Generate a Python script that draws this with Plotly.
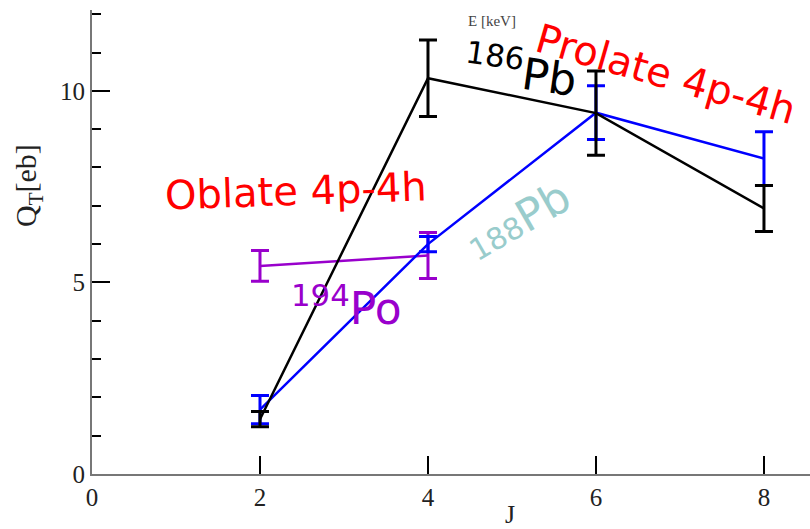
import plotly.graph_objects as go

# Transition quadrupole moments Q_T [eb] versus spin J
J_186 = [2, 4, 6, 8]
Q_186 = [1.43, 10.33, 9.42, 6.93]
ERR_186 = [0.2, 1.0, 1.1, 0.6]

J_188 = [2, 4, 6, 8]
Q_188 = [1.68, 6.0, 9.43, 8.23]
ERR_188 = [0.37, 0.2, 0.7, 0.7]

J_194 = [2, 4]
Q_194 = [5.43, 5.7]
ERR_194 = [0.4, 0.6]

X_TICKS = [0, 2, 4, 6, 8]
Y_TICKS = [0, 5, 10]

BLACK = "#000000"
BLUE = "#0000ff"
PURPLE = "#9900cc"
RED = "#ff0000"
TEAL = "#99cccc"

SANS = "DejaVu Sans"
SERIF = "Liberation Serif"


def series(x, y, err, color):
    return go.Scatter(
        x=x, y=y, mode="lines",
        line=dict(color=color, width=2.5),
        error_y=dict(type="data", array=err, visible=True,
                     color=color, thickness=3, width=9),
        showlegend=False, hoverinfo="skip",
    )


fig = go.Figure()
fig.add_trace(series(J_194, Q_194, ERR_194, PURPLE))
fig.add_trace(series(J_188, Q_188, ERR_188, BLUE))
fig.add_trace(series(J_186, Q_186, ERR_186, BLACK))

labels = [
    dict(x=6.83, y=10.45, text="Prolate 4p-4h", color=RED, size=40, angle=16),
    dict(x=2.43, y=7.38, text="Oblate 4p-4h", color=RED, size=40, angle=-2),
    dict(x=5.1, y=10.55, text="<sup>186</sup>Pb", color=BLACK, size=44, angle=8),
    dict(x=5.07, y=6.62,
         text="<span style='font-size:30px'>188</span>Pb", color=TEAL, size=44, angle=-30),
    dict(x=3.03, y=4.41, text="<sup>194</sup>Po", color=PURPLE, size=44, angle=0),
]
for lab in labels:
    fig.add_annotation(
        x=lab["x"], y=lab["y"], xref="x", yref="y", text=lab["text"],
        showarrow=False, textangle=lab["angle"],
        xanchor="center", yanchor="middle",
        font=dict(family=SANS, size=lab["size"], color=lab["color"]),
    )

# axis titles
fig.add_annotation(
    x=-0.089, y=0.621, xref="paper", yref="paper",
    xanchor="center", yanchor="middle",
    text="Q<sub>T</sub>[eb]", showarrow=False, textangle=-90,
    font=dict(family=SERIF, size=30, color="#222222"),
)
fig.add_annotation(
    x=0.582, y=-0.088, xref="paper", yref="paper",
    xanchor="center", yanchor="middle",
    text="J", showarrow=False,
    font=dict(family=SERIF, size=26, color="#222222"),
)
fig.add_annotation(
    x=0.557, y=0.976, xref="paper", yref="paper",
    xanchor="center", yanchor="middle",
    text="E [keV]", showarrow=False,
    font=dict(family=SERIF, size=15, color="#444444"),
)

axis_common = dict(
    showline=True, linecolor="#777777", linewidth=2,
    ticks="inside", tickcolor=BLACK, tickwidth=2, ticklen=18,
    showgrid=False, zeroline=False,
    tickfont=dict(family=SERIF, size=25, color="#222222"),
)

fig.update_layout(
    width=810, height=529,
    margin=dict(l=92, r=0, t=10, b=55),
    paper_bgcolor="white", plot_bgcolor="white",
    xaxis=dict(range=[0, 8.548], tickvals=X_TICKS, **axis_common),
    yaxis=dict(range=[0, 12.11], tickvals=Y_TICKS,
               minor=dict(ticks="inside", dtick=1, tick0=0, ticklen=9,
                          tickwidth=2, tickcolor=BLACK, showgrid=False),
               **axis_common),
)

fig.write_html("out.html")
